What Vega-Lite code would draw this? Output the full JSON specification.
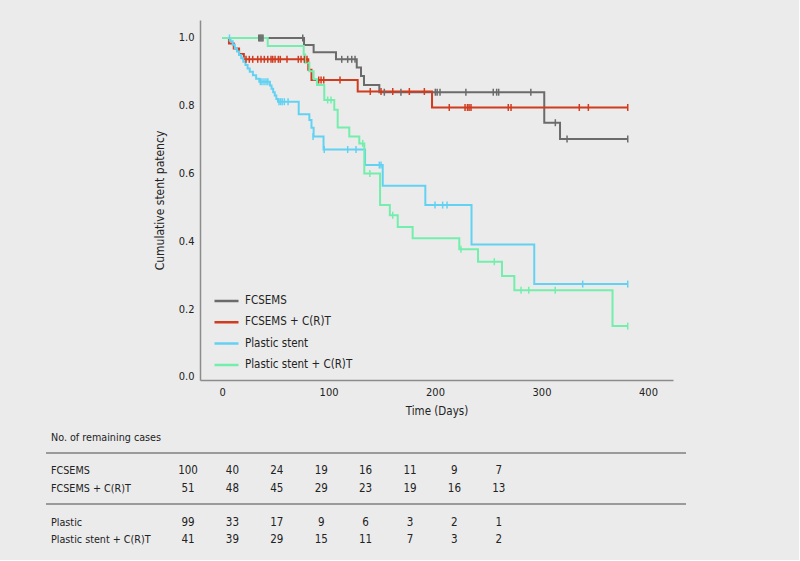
{
  "$schema": "https://vega.github.io/schema/vega-lite/v6.json",
  "background": "#ebebeb",
  "padding": {"left": 45, "top": 20, "right": 112, "bottom": 9},
  "spacing": 8,
  "config": {
    "font": "Liberation Sans Narrow, DejaVu Sans Condensed, Open Sans, sans-serif",
    "view": {"stroke": null}
  },
  "datasets": {
    "curves": [
      {"g": "FCSEMS", "t": 0, "s": 1},
      {"g": "FCSEMS", "t": 77, "s": 0.979},
      {"g": "FCSEMS", "t": 86, "s": 0.958},
      {"g": "FCSEMS", "t": 107, "s": 0.937},
      {"g": "FCSEMS", "t": 126.5, "s": 0.913},
      {"g": "FCSEMS", "t": 130.5, "s": 0.888},
      {"g": "FCSEMS", "t": 133.3, "s": 0.861},
      {"g": "FCSEMS", "t": 147.7, "s": 0.84},
      {"g": "FCSEMS", "t": 302.6, "s": 0.75},
      {"g": "FCSEMS", "t": 317.4, "s": 0.702},
      {"g": "FCSEMS", "t": 381, "s": 0.702},
      {"g": "FCSEMS + C(R)T", "t": 0, "s": 1},
      {"g": "FCSEMS + C(R)T", "t": 6.5, "s": 0.984},
      {"g": "FCSEMS + C(R)T", "t": 11, "s": 0.969},
      {"g": "FCSEMS + C(R)T", "t": 16, "s": 0.953},
      {"g": "FCSEMS + C(R)T", "t": 20.5, "s": 0.937},
      {"g": "FCSEMS + C(R)T", "t": 81, "s": 0.906},
      {"g": "FCSEMS + C(R)T", "t": 84, "s": 0.876},
      {"g": "FCSEMS + C(R)T", "t": 127.4, "s": 0.842},
      {"g": "FCSEMS + C(R)T", "t": 197.2, "s": 0.795},
      {"g": "FCSEMS + C(R)T", "t": 381, "s": 0.795},
      {"g": "Plastic stent", "t": 0, "s": 1},
      {"g": "Plastic stent", "t": 8, "s": 0.99},
      {"g": "Plastic stent", "t": 10, "s": 0.98},
      {"g": "Plastic stent", "t": 12, "s": 0.97},
      {"g": "Plastic stent", "t": 14, "s": 0.96},
      {"g": "Plastic stent", "t": 16, "s": 0.95},
      {"g": "Plastic stent", "t": 18, "s": 0.94},
      {"g": "Plastic stent", "t": 20, "s": 0.93},
      {"g": "Plastic stent", "t": 22, "s": 0.92},
      {"g": "Plastic stent", "t": 24, "s": 0.91},
      {"g": "Plastic stent", "t": 26, "s": 0.9},
      {"g": "Plastic stent", "t": 29, "s": 0.89},
      {"g": "Plastic stent", "t": 32, "s": 0.88},
      {"g": "Plastic stent", "t": 35, "s": 0.871},
      {"g": "Plastic stent", "t": 45, "s": 0.86},
      {"g": "Plastic stent", "t": 46.5, "s": 0.85},
      {"g": "Plastic stent", "t": 48, "s": 0.84},
      {"g": "Plastic stent", "t": 49.5, "s": 0.83},
      {"g": "Plastic stent", "t": 51, "s": 0.82},
      {"g": "Plastic stent", "t": 52.5, "s": 0.812},
      {"g": "Plastic stent", "t": 72, "s": 0.775},
      {"g": "Plastic stent", "t": 82, "s": 0.758},
      {"g": "Plastic stent", "t": 84, "s": 0.735},
      {"g": "Plastic stent", "t": 86, "s": 0.709},
      {"g": "Plastic stent", "t": 95.3, "s": 0.671},
      {"g": "Plastic stent", "t": 134.3, "s": 0.625},
      {"g": "Plastic stent", "t": 150.9, "s": 0.564},
      {"g": "Plastic stent", "t": 190.9, "s": 0.507},
      {"g": "Plastic stent", "t": 234.3, "s": 0.391},
      {"g": "Plastic stent", "t": 293.2, "s": 0.274},
      {"g": "Plastic stent", "t": 381, "s": 0.274},
      {"g": "Plastic stent + C(R)T", "t": 0, "s": 1},
      {"g": "Plastic stent + C(R)T", "t": 42.9, "s": 0.976},
      {"g": "Plastic stent + C(R)T", "t": 76.7, "s": 0.951},
      {"g": "Plastic stent + C(R)T", "t": 78, "s": 0.927},
      {"g": "Plastic stent + C(R)T", "t": 82, "s": 0.902},
      {"g": "Plastic stent + C(R)T", "t": 86, "s": 0.878},
      {"g": "Plastic stent + C(R)T", "t": 89.2, "s": 0.861},
      {"g": "Plastic stent + C(R)T", "t": 96, "s": 0.817},
      {"g": "Plastic stent + C(R)T", "t": 105.4, "s": 0.788},
      {"g": "Plastic stent + C(R)T", "t": 108.6, "s": 0.736},
      {"g": "Plastic stent + C(R)T", "t": 119.5, "s": 0.709},
      {"g": "Plastic stent + C(R)T", "t": 128.9, "s": 0.689},
      {"g": "Plastic stent + C(R)T", "t": 133.6, "s": 0.6},
      {"g": "Plastic stent + C(R)T", "t": 148.4, "s": 0.507},
      {"g": "Plastic stent + C(R)T", "t": 157.6, "s": 0.477},
      {"g": "Plastic stent + C(R)T", "t": 165, "s": 0.442},
      {"g": "Plastic stent + C(R)T", "t": 179, "s": 0.409},
      {"g": "Plastic stent + C(R)T", "t": 222.8, "s": 0.377},
      {"g": "Plastic stent + C(R)T", "t": 240.4, "s": 0.34},
      {"g": "Plastic stent + C(R)T", "t": 262.9, "s": 0.298},
      {"g": "Plastic stent + C(R)T", "t": 274.5, "s": 0.256},
      {"g": "Plastic stent + C(R)T", "t": 366.7, "s": 0.15},
      {"g": "Plastic stent + C(R)T", "t": 381, "s": 0.15}
    ],
    "censors": [
      {"g": "FCSEMS", "t": 34.5, "s": 1},
      {"g": "FCSEMS", "t": 35.5, "s": 1},
      {"g": "FCSEMS", "t": 36.5, "s": 1},
      {"g": "FCSEMS", "t": 37.5, "s": 1},
      {"g": "FCSEMS", "t": 38.5, "s": 1},
      {"g": "FCSEMS", "t": 75.8, "s": 1},
      {"g": "FCSEMS", "t": 112.4, "s": 0.937},
      {"g": "FCSEMS", "t": 118, "s": 0.937},
      {"g": "FCSEMS", "t": 121.8, "s": 0.937},
      {"g": "FCSEMS", "t": 124.9, "s": 0.937},
      {"g": "FCSEMS", "t": 152.4, "s": 0.84},
      {"g": "FCSEMS", "t": 168, "s": 0.84},
      {"g": "FCSEMS", "t": 200.3, "s": 0.84},
      {"g": "FCSEMS", "t": 202, "s": 0.84},
      {"g": "FCSEMS", "t": 204.7, "s": 0.84},
      {"g": "FCSEMS", "t": 229, "s": 0.84},
      {"g": "FCSEMS", "t": 254.7, "s": 0.84},
      {"g": "FCSEMS", "t": 257.9, "s": 0.84},
      {"g": "FCSEMS", "t": 259.8, "s": 0.84},
      {"g": "FCSEMS", "t": 290, "s": 0.84},
      {"g": "FCSEMS", "t": 313, "s": 0.75},
      {"g": "FCSEMS", "t": 324, "s": 0.702},
      {"g": "FCSEMS", "t": 381, "s": 0.702},
      {"g": "FCSEMS + C(R)T", "t": 22.5, "s": 0.937},
      {"g": "FCSEMS + C(R)T", "t": 25.6, "s": 0.937},
      {"g": "FCSEMS + C(R)T", "t": 28.8, "s": 0.937},
      {"g": "FCSEMS + C(R)T", "t": 33.5, "s": 0.937},
      {"g": "FCSEMS + C(R)T", "t": 36.6, "s": 0.937},
      {"g": "FCSEMS + C(R)T", "t": 39.7, "s": 0.937},
      {"g": "FCSEMS + C(R)T", "t": 42.9, "s": 0.937},
      {"g": "FCSEMS + C(R)T", "t": 46, "s": 0.937},
      {"g": "FCSEMS + C(R)T", "t": 47.6, "s": 0.937},
      {"g": "FCSEMS + C(R)T", "t": 49.8, "s": 0.937},
      {"g": "FCSEMS + C(R)T", "t": 52.9, "s": 0.937},
      {"g": "FCSEMS + C(R)T", "t": 54.7, "s": 0.937},
      {"g": "FCSEMS + C(R)T", "t": 61, "s": 0.937},
      {"g": "FCSEMS + C(R)T", "t": 71.6, "s": 0.937},
      {"g": "FCSEMS + C(R)T", "t": 74.2, "s": 0.937},
      {"g": "FCSEMS + C(R)T", "t": 77.3, "s": 0.937},
      {"g": "FCSEMS + C(R)T", "t": 79.8, "s": 0.937},
      {"g": "FCSEMS + C(R)T", "t": 90.8, "s": 0.876},
      {"g": "FCSEMS + C(R)T", "t": 93, "s": 0.876},
      {"g": "FCSEMS + C(R)T", "t": 95.5, "s": 0.876},
      {"g": "FCSEMS + C(R)T", "t": 110.8, "s": 0.876},
      {"g": "FCSEMS + C(R)T", "t": 139.2, "s": 0.842},
      {"g": "FCSEMS + C(R)T", "t": 149.3, "s": 0.842},
      {"g": "FCSEMS + C(R)T", "t": 160.3, "s": 0.842},
      {"g": "FCSEMS + C(R)T", "t": 175.9, "s": 0.842},
      {"g": "FCSEMS + C(R)T", "t": 190, "s": 0.842},
      {"g": "FCSEMS + C(R)T", "t": 213.4, "s": 0.795},
      {"g": "FCSEMS + C(R)T", "t": 228.2, "s": 0.795},
      {"g": "FCSEMS + C(R)T", "t": 230.5, "s": 0.795},
      {"g": "FCSEMS + C(R)T", "t": 232, "s": 0.795},
      {"g": "FCSEMS + C(R)T", "t": 233.8, "s": 0.795},
      {"g": "FCSEMS + C(R)T", "t": 268.8, "s": 0.795},
      {"g": "FCSEMS + C(R)T", "t": 271.4, "s": 0.795},
      {"g": "FCSEMS + C(R)T", "t": 335.5, "s": 0.795},
      {"g": "FCSEMS + C(R)T", "t": 344, "s": 0.795},
      {"g": "FCSEMS + C(R)T", "t": 381, "s": 0.795},
      {"g": "Plastic stent", "t": 7, "s": 1},
      {"g": "Plastic stent", "t": 36, "s": 0.871},
      {"g": "Plastic stent", "t": 37.5, "s": 0.871},
      {"g": "Plastic stent", "t": 39.4, "s": 0.871},
      {"g": "Plastic stent", "t": 41.3, "s": 0.871},
      {"g": "Plastic stent", "t": 43, "s": 0.871},
      {"g": "Plastic stent", "t": 53.5, "s": 0.812},
      {"g": "Plastic stent", "t": 55, "s": 0.812},
      {"g": "Plastic stent", "t": 56.5, "s": 0.812},
      {"g": "Plastic stent", "t": 58.5, "s": 0.812},
      {"g": "Plastic stent", "t": 62, "s": 0.812},
      {"g": "Plastic stent", "t": 85.5, "s": 0.709},
      {"g": "Plastic stent", "t": 96, "s": 0.671},
      {"g": "Plastic stent", "t": 118, "s": 0.671},
      {"g": "Plastic stent", "t": 125.8, "s": 0.671},
      {"g": "Plastic stent", "t": 147.7, "s": 0.625},
      {"g": "Plastic stent", "t": 149.3, "s": 0.625},
      {"g": "Plastic stent", "t": 200, "s": 0.507},
      {"g": "Plastic stent", "t": 207.2, "s": 0.507},
      {"g": "Plastic stent", "t": 211.3, "s": 0.507},
      {"g": "Plastic stent", "t": 338.7, "s": 0.274},
      {"g": "Plastic stent", "t": 381, "s": 0.274},
      {"g": "Plastic stent + C(R)T", "t": 99.2, "s": 0.817},
      {"g": "Plastic stent + C(R)T", "t": 102.3, "s": 0.817},
      {"g": "Plastic stent + C(R)T", "t": 132.1, "s": 0.689},
      {"g": "Plastic stent + C(R)T", "t": 138.8, "s": 0.6},
      {"g": "Plastic stent + C(R)T", "t": 160.3, "s": 0.477},
      {"g": "Plastic stent + C(R)T", "t": 224.4, "s": 0.377},
      {"g": "Plastic stent + C(R)T", "t": 255.7, "s": 0.34},
      {"g": "Plastic stent + C(R)T", "t": 280.8, "s": 0.256},
      {"g": "Plastic stent + C(R)T", "t": 288, "s": 0.256},
      {"g": "Plastic stent + C(R)T", "t": 312.9, "s": 0.256},
      {"g": "Plastic stent + C(R)T", "t": 381, "s": 0.15}
    ],
    "tableRules": [
      {"x1": -3.198, "x2": 11.216, "y": 1.64},
      {"x1": -3.198, "x2": 11.216, "y": 4.64}
    ],
    "tableLabels": [
      {"x": -3.086, "y": 0.76, "label": "No. of remaining cases"},
      {"x": -3.086, "y": 2.72, "label": "FCSEMS"},
      {"x": -3.086, "y": 3.78, "label": "FCSEMS + C(R)T"},
      {"x": -3.086, "y": 5.78, "label": "Plastic"},
      {"x": -3.086, "y": 6.78, "label": "Plastic stent + C(R)T"}
    ],
    "tableCounts": [
      {"col": 0, "row": 2.72, "n": "100"}, {"col": 1, "row": 2.72, "n": "40"}, {"col": 2, "row": 2.72, "n": "24"}, {"col": 3, "row": 2.72, "n": "19"},
      {"col": 4, "row": 2.72, "n": "16"}, {"col": 5, "row": 2.72, "n": "11"}, {"col": 6, "row": 2.72, "n": "9"}, {"col": 7, "row": 2.72, "n": "7"},
      {"col": 0, "row": 3.78, "n": "51"}, {"col": 1, "row": 3.78, "n": "48"}, {"col": 2, "row": 3.78, "n": "45"}, {"col": 3, "row": 3.78, "n": "29"},
      {"col": 4, "row": 3.78, "n": "23"}, {"col": 5, "row": 3.78, "n": "19"}, {"col": 6, "row": 3.78, "n": "16"}, {"col": 7, "row": 3.78, "n": "13"},
      {"col": 0, "row": 5.78, "n": "99"}, {"col": 1, "row": 5.78, "n": "33"}, {"col": 2, "row": 5.78, "n": "17"}, {"col": 3, "row": 5.78, "n": "9"},
      {"col": 4, "row": 5.78, "n": "6"}, {"col": 5, "row": 5.78, "n": "3"}, {"col": 6, "row": 5.78, "n": "2"}, {"col": 7, "row": 5.78, "n": "1"},
      {"col": 0, "row": 6.78, "n": "41"}, {"col": 1, "row": 6.78, "n": "39"}, {"col": 2, "row": 6.78, "n": "29"}, {"col": 3, "row": 6.78, "n": "15"},
      {"col": 4, "row": 6.78, "n": "11"}, {"col": 5, "row": 6.78, "n": "7"}, {"col": 6, "row": 6.78, "n": "3"}, {"col": 7, "row": 6.78, "n": "2"}
    ]
  },
  "vconcat": [
    {
      "width": 473,
      "height": 360,
      "layer": [
        {
          "data": {"name": "curves"},
          "mark": {"type": "line", "interpolate": "step-after", "strokeWidth": 2},
          "encoding": {
            "x": {"field": "t", "type": "quantitative", "title": "Time (Days)",
              "scale": {"domain": [-20.7, 423.5], "nice": false, "zero": false},
              "axis": {"values": [0, 100, 200, 300, 400], "ticks": false, "grid": false, "domainColor": "#8c8c8c", "domainWidth": 1.5,
                "labelFontSize": 11, "labelColor": "#222222", "labelPadding": 6, "titleFontSize": 11.5, "titleFontWeight": "normal", "titleColor": "#222222", "titlePadding": 8}},
            "y": {"field": "s", "type": "quantitative", "title": "Cumulative stent patency",
              "scale": {"domain": [-0.009, 1.053], "nice": false, "zero": false},
              "axis": {"values": [0, 0.2, 0.4, 0.6, 0.8, 1], "format": ".1f", "ticks": false, "grid": false, "domainColor": "#8c8c8c", "domainWidth": 1.5,
                "labelFontSize": 11, "labelColor": "#222222", "labelPadding": 6, "titleFontSize": 12, "titleFontWeight": "normal", "titleColor": "#222222", "titlePadding": 12}},
            "color": {"field": "g", "type": "nominal",
              "scale": {"domain": ["FCSEMS", "FCSEMS + C(R)T", "Plastic stent", "Plastic stent + C(R)T"], "range": ["#6b6b6b", "#d13b1e", "#63d2f2", "#74eeac"]},
              "legend": {"orient": "none", "legendX": 13, "legendY": 271.5, "title": null, "padding": 0, "symbolType": "stroke", "symbolSize": 576, "symbolStrokeWidth": 2.5,
                "clipHeight": 19, "labelFontSize": 11.5, "labelColor": "#222222", "labelOffset": 5, "rowPadding": 2.3}}
          }
        },
        {
          "data": {"name": "censors"},
          "mark": {"type": "point", "shape": "M0,-1L0,1", "size": 49, "strokeWidth": 1.5, "filled": false, "opacity": 1},
          "encoding": {
            "x": {"field": "t", "type": "quantitative"},
            "y": {"field": "s", "type": "quantitative"},
            "color": {"field": "g", "type": "nominal", "legend": null}
          }
        }
      ]
    },
    {
      "width": 486,
      "height": 126,
      "layer": [
        {
          "data": {"name": "tableRules"},
          "mark": {"type": "rule", "color": "#9a9a9a", "strokeWidth": 2},
          "encoding": {
            "x": {"field": "x1", "type": "quantitative", "scale": {"domain": [0.27, 11.216], "nice": false, "zero": false}, "axis": null},
            "x2": {"field": "x2"},
            "y": {"field": "y", "type": "quantitative", "scale": {"domain": [0, 7.4], "reverse": true, "nice": false, "zero": false}, "axis": null}
          }
        },
        {
          "data": {"name": "tableLabels"},
          "mark": {"type": "text", "align": "left", "baseline": "middle", "fontSize": 10.7, "color": "#222222"},
          "encoding": {
            "x": {"field": "x", "type": "quantitative", "axis": null},
            "y": {"field": "y", "type": "quantitative", "axis": null},
            "text": {"field": "label", "type": "nominal"}
          }
        },
        {
          "data": {"name": "tableCounts"},
          "mark": {"type": "text", "align": "center", "baseline": "middle", "fontSize": 11.5, "color": "#222222"},
          "encoding": {
            "x": {"field": "col", "type": "quantitative", "axis": null},
            "y": {"field": "row", "type": "quantitative", "axis": null},
            "text": {"field": "n", "type": "nominal"}
          }
        }
      ]
    }
  ]
}
